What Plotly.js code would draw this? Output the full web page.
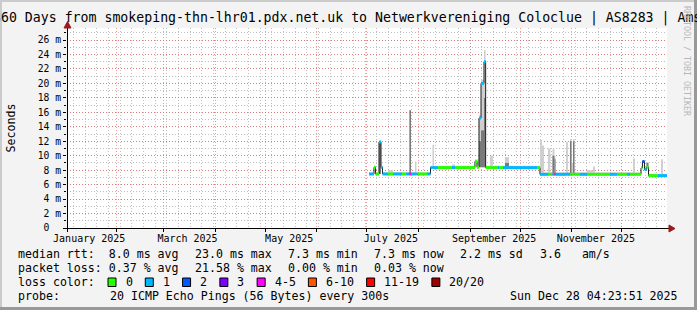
<!DOCTYPE html>
<html><head><meta charset="utf-8">
<script src="https://cdn.plot.ly/plotly-3.0.1.min.js"></script>
<style>html,body{margin:0;padding:0;background:#f3f3f3;overflow:hidden}#chart{width:697px;height:310px}</style>
</head><body><div id="chart"></div>
<script>
// ---------------- data ----------------
const times = ['2025-07-02 09:00','2025-07-05 09:00','2025-07-06 07:00','2025-07-08 09:00','2025-07-09 14:00','2025-07-10 12:00','2025-07-13 19:00','2025-07-16 19:00','2025-07-22 04:00','2025-07-24 14:00','2025-07-26 16:00','2025-07-27 14:00','2025-07-29 23:00','2025-07-30 21:00','2025-07-31 18:00','2025-08-06 04:00','2025-08-08 07:00','2025-08-09 11:00','2025-08-10 09:00','2025-08-12 19:00','2025-08-21 04:00','2025-08-22 23:00','2025-09-03 23:00','2025-09-05 04:00','2025-09-06 09:00','2025-09-07 14:00','2025-09-09 09:00','2025-09-10 09:00','2025-09-12 23:00','2025-09-14 18:00','2025-09-17 18:00','2025-09-18 09:00','2025-09-20 18:00','2025-09-21 23:00','2025-09-24 09:00','2025-10-11 04:00','2025-10-12 23:00','2025-10-14 04:00','2025-10-15 09:00','2025-10-17 18:00','2025-10-19 06:00','2025-10-20 11:00','2025-10-21 16:00','2025-10-22 07:00','2025-10-28 14:00','2025-10-29 18:00','2025-10-30 23:00','2025-10-31 21:00','2025-11-01 19:00','2025-11-02 16:00','2025-11-05 23:00','2025-11-10 04:00','2025-11-13 18:00','2025-11-14 23:00','2025-11-23 23:00','2025-11-28 04:00','2025-12-04 04:00','2025-12-05 23:00','2025-12-07 18:00','2025-12-08 23:00','2025-12-12 14:00','2025-12-13 11:00','2025-12-14 16:00','2025-12-15 21:00','2025-12-17 02:00','2025-12-22 19:00','2025-12-24 14:00','2025-12-25 19:00'];
const dataEnd = '2025-12-28 04:23';
// median rtt in ms
const medianMs = [7.47,8.4,7.47,11.9,8.4,7.47,7.47,7.47,7.47,7.47,7.47,7.47,7.47,7.47,7.47,7.47,8.35,8.35,8.35,8.35,8.35,8.35,9.2,8.4,15.2,20.0,23.0,8.35,8.35,8.35,8.35,8.35,8.35,8.35,8.35,8.35,7.42,7.42,7.42,7.42,7.42,7.42,7.42,7.42,7.42,7.42,7.42,7.42,7.42,7.42,7.42,7.42,7.42,7.42,7.42,7.42,7.42,7.42,7.42,7.42,8.3,9.2,8.1,8.4,7.24,7.24,7.24,7.24];
// loss class index into lossLabels
const lossIdx = [1,0,0,1,1,1,0,1,0,1,4,1,1,1,0,1,1,1,1,0,1,0,0,0,1,1,1,0,0,0,1,0,1,1,1,0,1,1,1,0,0,1,4,1,1,1,0,0,0,0,1,0,0,0,1,0,1,0,0,0,0,2,1,0,0,1,1,1];
// smoke (ping spread) in ms
const smokeLoMs = [7.47,8.4,7.47,7.5,8.4,7.47,7.47,7.47,7.47,7.47,7.47,7.47,7.47,7.47,7.47,7.47,8.35,8.35,8.35,8.35,8.35,8.35,9.2,8.4,8.4,8.4,8.4,8.35,8.35,8.35,8.35,8.35,8.35,8.35,8.35,8.35,7.42,7.42,7.42,7.42,7.42,7.42,7.42,7.42,7.42,7.42,7.42,7.42,7.42,7.42,7.42,7.42,7.42,7.42,7.42,7.42,7.42,7.42,7.42,7.42,8.3,9.2,8.1,8.4,7.24,7.24,7.24,7.24];
const smokeMidMs = [7.47,8.4,7.47,11.9,8.4,7.47,7.47,7.47,7.47,7.47,16.3,7.47,7.47,7.47,7.47,7.47,8.35,8.35,8.35,8.35,8.35,8.35,9.2,8.4,12.0,13.5,18.0,8.35,8.35,8.35,8.35,8.35,8.35,9.0,8.35,8.35,7.42,7.42,7.42,7.42,7.42,10.0,9.5,7.42,7.42,7.42,12.0,7.42,12.0,7.42,7.42,7.42,7.42,7.42,7.42,7.42,7.42,7.42,7.42,7.42,8.3,9.2,8.1,9.0,7.24,7.24,7.24,7.24];
const smokeHiMs = [7.7,8.6,7.7,12.0,8.6,7.7,8.0,7.7,7.7,7.7,16.3,7.7,9.2,7.7,7.7,7.7,8.6,11.5,8.6,8.6,8.8,8.6,9.5,9.5,15.6,20.5,24.6,8.6,10.0,8.6,8.6,8.6,8.6,9.8,8.6,8.6,12.2,11.4,7.7,11.0,7.7,10.9,9.9,7.7,11.9,7.7,12.3,9.0,12.3,7.7,7.7,8.0,8.5,7.7,7.7,7.7,7.7,7.7,9.6,7.7,8.5,9.4,8.4,9.1,7.5,7.5,9.5,7.5];

const lossLabels = ['0','1','2','3','4-5','6-10','11-19','20/20'];
const lossColors = ['#26ff00','#00b8ff','#0059ff','#7e00ff','#ff00ff','#ff5500','#ff0000','#a10000'];

const rangeStart = '2025-01-02 04:23:51';
const rangeEnd = '2025-12-28 04:23:51';
const monthStarts = ['2025-02-01','2025-03-01','2025-04-01','2025-05-01','2025-06-01','2025-07-01','2025-08-01','2025-09-01','2025-10-01','2025-11-01','2025-12-01'];
const monthLabelDates = ['2025-01-15 12:00','2025-03-15 12:00','2025-05-15 12:00','2025-07-15 12:00','2025-09-15 12:00','2025-11-15 12:00'];
const monthLabels = ['January 2025','March 2025','May 2025','July 2025','September 2025','November 2025'];
const yTickVals = [0,2,4,6,8,10,12,14,16,18,20,22,24,26];
const yTickText = ['0<span style="color:rgba(0,0,0,0)">mm</span>','2 m','4 m','6 m','8 m','10 m','12 m','14 m','16 m','18 m','20 m','22 m','24 m','26 m'];

const titleText = '360 Days from smokeping-thn-lhr01.pdx.net.uk to Netwerkvereniging Coloclue | AS8283 | Amsterdam';
const rttStats = ['median rtt:  8.0 ms avg','23.0 ms max','7.3 ms min','7.3 ms now','2.2 ms sd','3.6   am/s'];
const lossStats = ['packet loss: 0.37 % avg','21.58 % max','0.00 % min','0.03 % now'];
const probeText = '20 ICMP Echo Pings (56 Bytes) every 300s';
const stampText = 'Sun Dec 28 04:23:51 2025';

// ---------------- build ----------------
const toMs = s => Date.parse(s.replace(' ', 'T') + 'Z');
const tMs = times.map(toMs);
const endMs = toMs(dataEnd);
const tNext = tMs.map((t, i) => i + 1 < tMs.length ? tMs[i + 1] : endMs);
const tMid = tMs.map((t, i) => (t + tNext[i]) / 2);
const tW = tMs.map((t, i) => tNext[i] - t);

const traces = [];
traces.push({type:'bar', x:tMid, base:smokeLoMs, y:smokeHiMs.map((h,i)=>h-smokeLoMs[i]), width:tW,
  marker:{color:'#cfcfcf', line:{width:0}}, hoverinfo:'skip'});
traces.push({type:'bar', x:tMid, base:smokeLoMs, y:smokeMidMs.map((m,i)=>m-smokeLoMs[i]), width:tW,
  marker:{color:'#7a7a7a', line:{width:0}}, hoverinfo:'skip'});
traces.push({type:'scatter', mode:'lines', x:tMs.concat([endMs]), y:medianMs.concat([medianMs[medianMs.length-1]]),
  line:{color:'#202020', width:1, shape:'hv'}, hoverinfo:'skip'});
lossLabels.forEach((lab, k) => {
  const xs = [], ys = [];
  tMs.forEach((t, i) => { if (lossIdx[i] === k) { xs.push(t, tNext[i], null); ys.push(medianMs[i], medianMs[i], null); } });
  traces.push({type:'scatter', mode:'lines', x:xs, y:ys, line:{color:lossColors[k], width:3}, name:lab, hoverinfo:'skip'});
});
traces.push({type:'scatter', mode:'lines', x:[], y:[], xaxis:'x2', yaxis:'y', hoverinfo:'skip'});

// geometry helpers (pixel -> paper)
const L = 67, T = 28, PW = 600, PH = 200;
const px = v => (v - L) / PW;
const py = v => (T + PH - v) / PH;
const FONT = 'DejaVu Sans Mono';
const nb = s => s.replace(/ /g, '\u00a0');
const LEGSIZE = 11.6, CW = 6.985, GAP = 16.3;

const annotations = [];
const shapes = [];
function addText(text, x, y, opts) {
  annotations.push(Object.assign({xref:'paper', yref:'paper', x:px(x), y:py(y), text:nb(text), showarrow:false,
    xanchor:'left', yanchor:'middle', font:{family:FONT, size:LEGSIZE, color:'#000'}}, opts || {}));
}
// title
addText(titleText, -9, 18.5, {font:{family:FONT, size:13.23, color:'#000'}});
// y axis title
addText('Seconds', 10.5, 128, {textangle:-90, xanchor:'center'});
// watermark
annotations.push({xref:'paper', yref:'paper', x:px(687), y:py(4), text:'RRDTOOL / TOBI OETIKER', showarrow:false,
  textangle:90, xanchor:'center', yanchor:'top', font:{family:FONT, size:8.3, color:'#b8b8b8'}});
// legend rows
function chunkRow(chunks, y) {
  let x = 16;
  chunks.forEach(c => { addText(c, x, y); x += c.length * CW + GAP; });
}
chunkRow(rttStats, 254);
chunkRow(lossStats, 268);
addText('loss color:', 16, 282);
let lx = 108;
lossLabels.forEach((lab, k) => {
  shapes.push({type:'rect', xref:'paper', yref:'paper', x0:px(lx), x1:px(lx + 8), y0:py(286.5), y1:py(278),
    fillcolor:lossColors[k], line:{color:'#000', width:1}});
  addText(lab, lx + 15.6, 282);
  lx += 15.6 + lab.length * CW + 14.7;
});
addText('probe:', 16, 296);
addText(probeText, 107.6, 296);
addText(stampText, 680, 296, {xanchor:'right'});

// frame
shapes.push({type:'rect', xref:'paper', yref:'paper', x0:px(0), x1:px(697), y0:py(0), y1:py(2), fillcolor:'#cbcbcb', line:{width:0}});
shapes.push({type:'rect', xref:'paper', yref:'paper', x0:px(0), x1:px(2), y0:py(0), y1:py(310), fillcolor:'#cbcbcb', line:{width:0}});
shapes.push({type:'rect', xref:'paper', yref:'paper', x0:px(0), x1:px(697), y0:py(307), y1:py(310), fillcolor:'#999999', line:{width:0}});
shapes.push({type:'rect', xref:'paper', yref:'paper', x0:px(694), x1:px(697), y0:py(0), y1:py(310), fillcolor:'#999999', line:{width:0}});
// axes with arrows
shapes.push({type:'line', xref:'paper', yref:'paper', x0:px(63), x1:px(670), y0:py(228.5), y1:py(228.5), line:{color:'#000', width:1}});
shapes.push({type:'line', xref:'paper', yref:'paper', x0:px(67.5), x1:px(67.5), y0:py(232), y1:py(25), line:{color:'#000', width:1}});
shapes.push({type:'path', xref:'paper', yref:'paper',
  path:`M ${px(669)} ${py(225)} L ${px(675)} ${py(228.5)} L ${px(669)} ${py(232)} Z`, fillcolor:'#9a1b1b', line:{color:'#9a1b1b', width:1}});
shapes.push({type:'path', xref:'paper', yref:'paper',
  path:`M ${px(64)} ${py(28)} L ${px(67.5)} ${py(21.5)} L ${px(71)} ${py(28)} Z`, fillcolor:'#9a1b1b', line:{color:'#9a1b1b', width:1}});

const RED = 'rgba(235,70,70,0.55)';
const GRAY = 'rgba(140,140,140,0.55)';
const DASH = '1px,2px';
const layout = {
  width:697, height:310, margin:{l:67, r:30, t:28, b:82, pad:0},
  paper_bgcolor:'#f3f3f3', plot_bgcolor:'#ffffff', showlegend:false, barmode:'overlay',
  font:{family:FONT, size:10, color:'#000'},
  xaxis:{type:'date', range:[rangeStart, rangeEnd], tickmode:'array', tickvals:monthLabelDates, ticktext:monthLabels,
    ticks:'', showgrid:false, zeroline:false, showline:false, ticklabelstandoff:3, tickfont:{family:FONT, size:10, color:'#000'},
    minor:{tickmode:'array', tickvals:monthStarts, showgrid:true, gridcolor:RED, gridwidth:1, griddash:DASH,
      ticks:'outside', ticklen:3, tickcolor:'#000'}},
  xaxis2:{type:'date', overlaying:'x', anchor:'y', side:'bottom', range:[rangeStart, rangeEnd], tickmode:'linear',
    tick0:'2025-01-06', dtick:7*86400000, showgrid:true, gridcolor:GRAY, gridwidth:1, griddash:DASH,
    showticklabels:false, ticks:'', zeroline:false, showline:false},
  yaxis:{range:[0, 27.66], tickmode:'array', tickvals:yTickVals, ticktext:yTickText, showgrid:true, gridcolor:RED,
    gridwidth:1, griddash:DASH, ticks:'outside', ticklen:3, tickcolor:'#000', zeroline:false, showline:false,
    tickfont:{family:FONT, size:9.7, color:'#000'},
    minor:{tickmode:'linear', tick0:0, dtick:1, showgrid:true, gridcolor:GRAY, gridwidth:1, griddash:DASH, ticks:'outside', ticklen:2, tickcolor:'#000'}},
  annotations:annotations, shapes:shapes
};
Plotly.newPlot('chart', traces, layout, {staticPlot:true, displayModeBar:false});
</script></body></html>
